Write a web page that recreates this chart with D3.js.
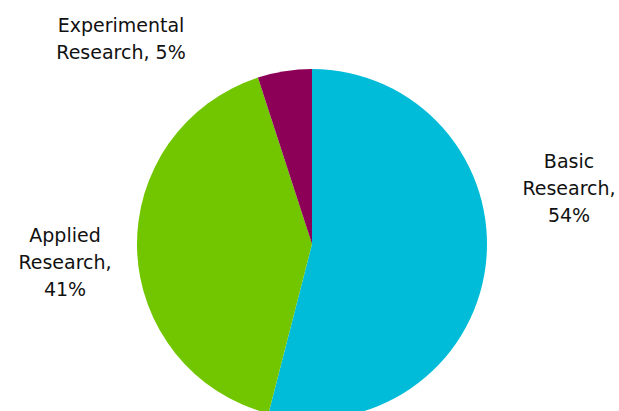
<!DOCTYPE html>
<html>
<head>
<meta charset="utf-8">
<script src="https://cdn.jsdelivr.net/npm/d3@7"></script>
<style>
  html, body { margin: 0; padding: 0; background: #fff; }
  svg { display: block; }
  text { font-family: "DejaVu Sans", sans-serif; font-size: 19px; fill: #111; }
</style>
</head>
<body>
<svg id="chart" width="619" height="411"></svg>
<script>
// Research categories and their shares (%)
const categories = ["Basic Research", "Applied Research", "Experimental Research"];
const shares = [54, 41, 5];
const colors = ["#00BCD8", "#72C600", "#8C0058"];

// Label lines and anchor positions for each slice
const labelLines = [["Basic", "Research,", "54%"], ["Applied", "Research,", "41%"], ["Experimental", "Research, 5%"]];
const labelPos = [[569, 168], [65, 242], [121, 32]];

const W = 619, H = 411;
const cx = 312, cy = 244, radius = 175;

const svg = d3.select("#chart");
const g = svg.append("g").attr("transform", `translate(${cx},${cy})`);

const data = categories.map((c, i) => ({ name: c, value: shares[i], color: colors[i] }));

const pie = d3.pie().value(d => d.value).sort(null);
const arc = d3.arc().innerRadius(0).outerRadius(radius);

g.selectAll("path")
  .data(pie(data))
  .join("path")
  .attr("d", arc)
  .attr("fill", d => d.data.color);

// Multi-line slice labels
const labels = svg.selectAll("text.lbl")
  .data(data)
  .join("text")
  .attr("class", "lbl")
  .attr("text-anchor", "middle")
  .attr("x", (d, i) => labelPos[i][0])
  .attr("y", (d, i) => labelPos[i][1]);

labels.each(function(d, i) {
  d3.select(this).selectAll("tspan")
    .data(labelLines[i])
    .join("tspan")
    .attr("x", labelPos[i][0])
    .attr("dy", (t, j) => j === 0 ? 0 : 27)
    .text(t => t);
});
</script>
</body>
</html>
